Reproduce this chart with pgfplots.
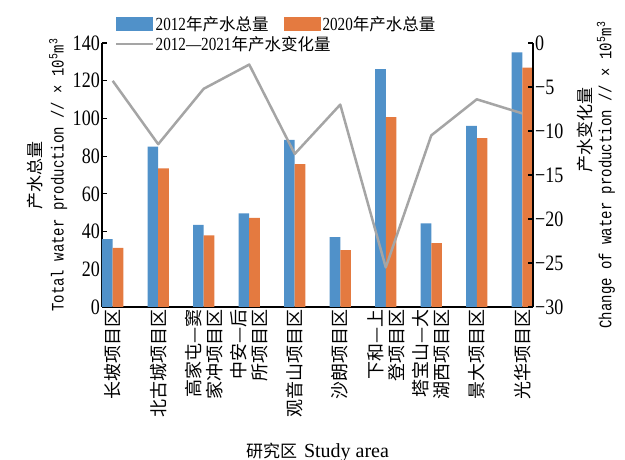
\documentclass[border=0pt]{standalone}
\usepackage{pgfplots}
\usepackage{pgfplotstable}
\pgfplotsset{compat=1.18}
\usepackage{fontspec}
\setmainfont{Liberation Serif}
\newfontfamily\numfont{Liberation Serif}[FakeStretch=0.82]
\newfontfamily\cjk{Noto Sans CJK SC}
\newfontfamily\monofont{Liberation Mono}[FakeStretch=0.8]

\definecolor{bartwelve}{RGB}{80,145,201}
\definecolor{bartwenty}{RGB}{228,122,64}
\definecolor{chgline}{RGB}{165,165,165}

% water production per study area (10^5 m^3)
\pgfplotstableread{
idx y2012 y2020 chg
0   36.0  31.3  -4.3
1   85.0  73.5  -11.5
2   43.5  38.0  -5.2
3   49.7  47.2  -2.45
4   88.6  75.8  -12.6
5   37.1  30.1  -7.0
6   126.2 100.7 -25.5
7   44.4  33.9  -10.5
8   96.0  89.6  -6.4
9   135.0 126.9 -8.0
}\datatable

\newcommand\lc[1]{{\fontsize{16.5}{21}\cjk #1}}

\begin{document}
\begin{tikzpicture}
\useasboundingbox (-102pt,-153pt) rectangle (523pt,307pt);
\begin{axis}[
  at={(0pt,0pt)}, anchor=south west,
  scale only axis, width=431pt, height=264pt,
  xmin=-0.235, xmax=9.235, ymin=0, ymax=140,
  axis x line*=bottom, axis y line*=left,
  axis line style={-, line width=1.2pt, black},
  xtick={0,...,9},
  xticklabels={长坡项目区,北古城项目区,高家屯—窦\\家冲项目区,中安—后\\所项目区,观音山项目区,沙朗项目区,下和—上\\登项目区,塔宝山—大\\湖西项目区,景大项目区,光华项目区},
  xtick style={draw=none},
  ytick={0,20,...,140},
  tick align=inside,
  major tick length=5pt,
  ytick style={line width=1.2pt, black},
  /pgf/number format/assume math mode=true,
  yticklabel style={font=\fontsize{22}{22}\numfont, inner xsep=2pt},
  xticklabel style={rotate=90, anchor=east, align=right, font=\fontsize{18}{21}\cjk, inner sep=2pt},
  ylabel={{\fontsize{17}{20}\cjk 产水总量}\\[5pt]{\fontsize{17.5}{20}\monofont Total water production // × 10\textsuperscript{5}m\textsuperscript{3}}},
  ylabel style={align=center},
  xlabel={{\fontsize{17}{20}\cjk 研究区}\hspace{7pt}{\fontsize{20}{22}\selectfont Study area}},
  xlabel shift=20pt,
  legend columns=2,
  legend cell align=left,
  legend style={at={(axis description cs:0,1)}, anchor=north west, xshift=13pt, yshift=28pt,
    draw=none, fill=none, inner sep=0pt, row sep=1pt,
    font=\fontsize{18.5}{21}\numfont,
    nodes={inner sep=1.5pt},
    /tikz/every even column/.append style={column sep=14pt}},
]
\addplot[ybar, bar width=0.235, bar shift=-0.1175, fill=bartwelve, draw=none,
  legend image code/.code={\fill[bartwelve] (0pt,-7pt) rectangle (37pt,7pt);}]
  table[x=idx, y=y2012]{\datatable};
\addlegendentry{2012\lc{年产水总量}}
\addplot[ybar, bar width=0.235, bar shift=0.1175, fill=bartwenty, draw=none,
  legend image code/.code={\fill[bartwenty] (0pt,-7pt) rectangle (37pt,7pt);}]
  table[x=idx, y=y2020]{\datatable};
\addlegendentry{2020\lc{年产水总量}}
\addlegendimage{legend image code/.code={\draw[chgline, line width=2pt] (0pt,0pt) -- (37pt,0pt);}}
\addlegendentry{\rlap{2012—2021\lc{年产水变化量}}}
\end{axis}
\begin{axis}[
  at={(0pt,0pt)}, anchor=south west,
  scale only axis, width=431pt, height=264pt,
  xmin=-0.235, xmax=9.235, ymin=-30, ymax=0,
  axis x line=none, axis y line*=right,
  axis line style={-, line width=1.2pt, black},
  tick align=inside,
  major tick length=5pt,
  ytick style={line width=1.2pt, black},
  ytick={-30,-25,...,0},
  yticklabels={−30,−25,−20,−15,−10,−5,0},
  yticklabel style={font=\fontsize{22}{22}\numfont, inner xsep=2pt},
  ylabel={\hspace*{90pt}{\fontsize{17}{20}\cjk 产水变化量}\\[3pt]{\fontsize{17.5}{20}\monofont Change of water production // × 10\textsuperscript{5}m\textsuperscript{3}}},
  ylabel style={align=center},
  ylabel shift=8pt,
]
\addplot[chgline, line width=2.5pt, line join=round, no markers]
  table[x=idx, y=chg]{\datatable};
\end{axis}
\end{tikzpicture}
\end{document}
